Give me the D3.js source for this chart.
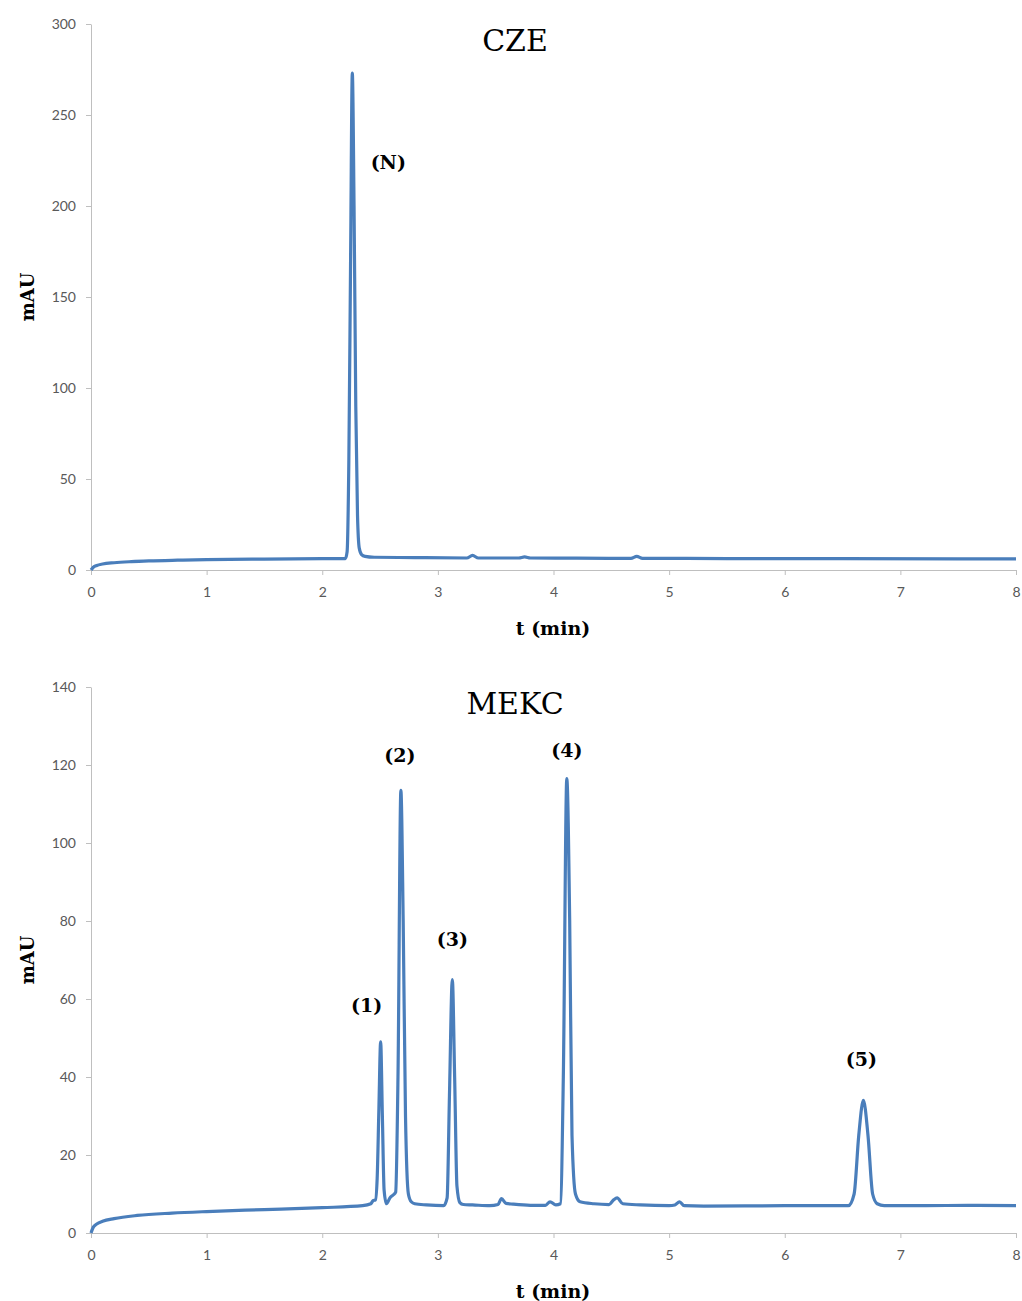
<!DOCTYPE html>
<html lang="en">
<head>
<meta charset="UTF-8">
<title>CZE / MEKC</title>
<script src="https://d3js.org/d3.v7.min.js"></script>
<style>
    body { margin: 0; background: #fff; }
    .tick text { font-family: Lato, "Open Sans", sans-serif; font-size: 14px; fill: #595959; }
    .tick line, .domain { stroke: #bfbfbf; }
</style>
</head>
<body>
<script>

    const width = 1022;
    const height = 1301;

    // CZE trace, [t (min), mAU]
    const cze = [
        [0,0],[0.02,1.5],[0.05,2.5],[0.1,3.3],[0.2,4.0],[0.35,4.6],[0.5,5.0],[0.75,5.4],
        [1.0,5.7],[1.5,6.0],[2.0,6.2],[2.2,6.3],[2.215,10],[2.23,60],[2.245,170],[2.26,273],
        [2.275,200],[2.29,90],[2.305,30],[2.32,12],[2.34,8.5],[2.37,7.5],[2.45,7],[2.8,6.8],
        [3.25,6.6],[3.3,8],[3.35,6.6],[3.7,6.6],[3.75,7.2],[3.8,6.6],[4.2,6.5],[4.67,6.4],
        [4.72,7.5],[4.77,6.4],[5.5,6.3],[6.5,6.2],[7.5,6.1],[8.0,6.1]
    ];

    // MEKC trace, [t (min), mAU]
    const mekc = [
        [0,0],[0.02,1.5],[0.05,2.3],[0.1,3.0],[0.2,3.7],[0.4,4.5],[0.7,5.1],[1.0,5.5],
        [1.5,6.0],[2.0,6.5],[2.35,7.0],[2.42,7.5],[2.44,8.3],[2.46,8.5],[2.475,14],[2.49,32],
        [2.505,49],[2.52,30],[2.535,11],[2.555,7.5],[2.585,9],[2.615,9.8],[2.635,10.5],[2.655,40],
        [2.68,113.5],[2.7,80],[2.72,30],[2.745,10],[2.77,8],[2.8,7.5],[2.9,7.2],[3.05,7.0],
        [3.08,9],[3.1,35],[3.125,65],[3.145,40],[3.165,12],[3.19,7.8],[3.22,7.3],[3.3,7.2],
        [3.45,7.0],[3.52,7.3],[3.55,8.8],[3.59,7.6],[3.65,7.4],[3.8,7.1],[3.93,7.1],[3.97,8.0],
        [4.02,7.2],[4.06,7.5],[4.085,40],[4.115,116.5],[4.14,80],[4.16,25],[4.19,10],[4.23,8],
        [4.35,7.5],[4.48,7.3],[4.52,8.5],[4.55,9.0],[4.6,7.5],[4.75,7.2],[5.0,7.0],[5.05,7.2],
        [5.09,8.0],[5.13,7.0],[5.3,6.9],[6.0,7.0],[6.55,7.0],[6.6,10],[6.64,25],[6.68,34],
        [6.72,25],[6.76,10],[6.8,7.5],[6.86,7.0],[7.2,7.0],[7.6,7.1],[8.0,7.0]
    ];

    const xTicks = [0,1,2,3,4,5,6,7,8];
    const czeTicks = [0,50,100,150,200,250,300];
    const mekcTicks = [0,20,40,60,80,100,120,140];

    const czeLabels = [{t: 2.26, v: 273, text: "(N)", dx: 36, dy: 96}];
    const mekcLabels = [
        {t: 2.505, v: 49, text: "(1)", dx: -14, dy: -30},
        {t: 2.68, v: 113.5, text: "(2)", dx: -1, dy: -28},
        {t: 3.125, v: 65, text: "(3)", dx: 0, dy: -34},
        {t: 4.115, v: 116.5, text: "(4)", dx: 0, dy: -22},
        {t: 6.68, v: 34, text: "(5)", dx: -2, dy: -34}
    ];

    const svg = d3.select("body").append("svg")
        .attr("width", width)
        .attr("height", height);

    function panel(opts) {
        const x = d3.scaleLinear().domain([0, 8]).range([91, 1016]);
        const y = d3.scaleLinear().domain([0, opts.ymax]).range([opts.y0, opts.y1]);
        const g = svg.append("g");

        g.append("g")
            .attr("transform", `translate(0,${opts.y0})`)
            .call(d3.axisBottom(x).tickValues(xTicks).tickFormat(d3.format("d")).tickSize(5).tickSizeOuter(0).tickPadding(12));

        g.append("g")
            .attr("transform", "translate(91,0)")
            .call(d3.axisLeft(y).tickValues(opts.ticks).tickFormat(d3.format("d")).tickSize(5).tickSizeOuter(0).tickPadding(10));

        g.append("path")
            .datum(opts.data)
            .attr("fill", "none")
            .attr("stroke", "#4a7ebb")
            .attr("stroke-width", 3.2)
            .attr("stroke-linejoin", "round")
            .attr("d", d3.line().x(d => x(d[0])).y(d => y(d[1])).curve(d3.curveMonotoneX));

        g.append("text")
            .attr("x", 515).attr("y", opts.y1 + 27)
            .attr("text-anchor", "middle")
            .attr("font-family", "'DejaVu Serif', serif")
            .attr("font-size", 30)
            .text(opts.title);

        g.append("text")
            .attr("x", 553).attr("y", opts.y0 + 65)
            .attr("text-anchor", "middle")
            .attr("font-family", "'DejaVu Serif', serif")
            .attr("font-weight", "bold")
            .attr("font-size", 19)
            .text("t (min)");

        g.append("text")
            .attr("transform", `translate(34,${(opts.y0 + opts.y1) / 2}) rotate(-90)`)
            .attr("text-anchor", "middle")
            .attr("font-family", "'DejaVu Serif', serif")
            .attr("font-weight", "bold")
            .attr("font-size", 18)
            .text("mAU");

        g.selectAll(".peak")
            .data(opts.labels)
            .join("text")
            .attr("x", d => x(d.t) + d.dx)
            .attr("y", d => y(d.v) + d.dy)
            .attr("text-anchor", "middle")
            .attr("font-family", "'DejaVu Serif', serif")
            .attr("font-weight", "bold")
            .attr("font-size", 19)
            .text(d => d.text);
    }

    panel({data: cze, ymax: 300, ticks: czeTicks, y0: 570, y1: 24, title: "CZE", labels: czeLabels});
    panel({data: mekc, ymax: 140, ticks: mekcTicks, y0: 1233, y1: 687, title: "MEKC", labels: mekcLabels});

</script>
</body>
</html>
